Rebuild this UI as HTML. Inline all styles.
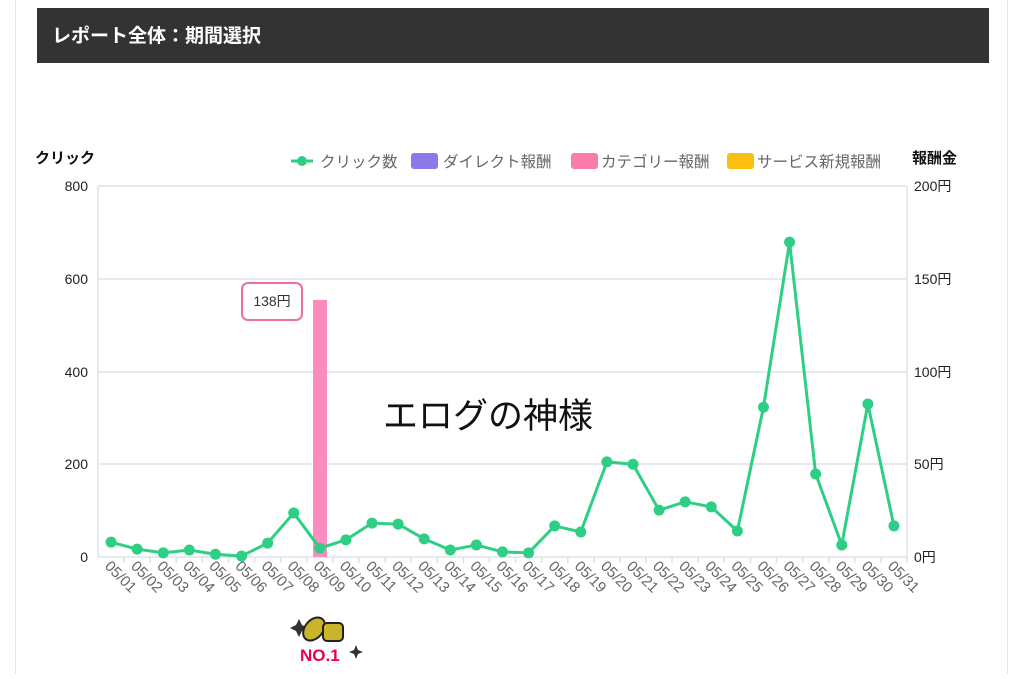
<!DOCTYPE html>
<html><head><meta charset="utf-8"><style>
body{margin:0;background:#fff;width:1024px;height:674px;overflow:hidden;font-family:"Liberation Sans","Noto Sans CJK JP",sans-serif}
</style></head><body>
<svg width="1024" height="674" xmlns="http://www.w3.org/2000/svg" font-family="Liberation Sans, Noto Sans CJK JP, sans-serif">
<line x1="15.5" y1="0" x2="15.5" y2="674" stroke="#e6e6e6"/>
<line x1="1007.5" y1="0" x2="1007.5" y2="674" stroke="#e6e6e6"/>
<rect x="37" y="8" width="952" height="55" fill="#333"/>
<text x="52" y="42" font-size="19" font-weight="bold" fill="#fff">レポート全体：期間選択</text>
<text x="35" y="163" font-size="15" font-weight="bold" fill="#111">クリック</text>
<text x="912" y="163" font-size="15" font-weight="bold" fill="#111">報酬金</text>
<line x1="291" y1="161" x2="313" y2="161" stroke="#2ecf85" stroke-width="3"/><circle cx="302" cy="161" r="5" fill="#2ecf85"/>
<text x="320" y="167" font-size="15.5" fill="#666">クリック数</text>
<rect x="411" y="153" width="27" height="16" rx="3" fill="#8a79e8"/>
<text x="443" y="167" font-size="15.5" fill="#666">ダイレクト報酬</text>
<rect x="571" y="153" width="27" height="16" rx="3" fill="#fb7bab"/>
<text x="601" y="167" font-size="15.5" fill="#666">カテゴリー報酬</text>
<rect x="727" y="153" width="27" height="16" rx="3" fill="#fbbf0f"/>
<text x="757" y="167" font-size="15.5" fill="#666">サービス新規報酬</text>
<g stroke="#dde2ea" stroke-width="1.5">
<line x1="98" y1="186" x2="907" y2="186"/><line x1="98" y1="279" x2="907" y2="279"/><line x1="98" y1="372" x2="907" y2="372"/><line x1="98" y1="464" x2="907" y2="464"/><line x1="98" y1="557" x2="907" y2="557"/>
<line x1="98" y1="186" x2="98" y2="557"/><line x1="907" y1="186" x2="907" y2="557"/>
</g>
<g font-size="14" fill="#222" text-anchor="end">
<text x="88" y="191">800</text><text x="88" y="284">600</text><text x="88" y="377">400</text><text x="88" y="469">200</text><text x="88" y="562">0</text>
</g>
<g font-size="14" fill="#222">
<text x="914" y="191">200円</text><text x="914" y="284">150円</text><text x="914" y="377">100円</text><text x="914" y="469">50円</text><text x="914" y="562">0円</text>
</g>
<rect x="313" y="300" width="14" height="257" fill="#fb8cc0"/>
<g id="ticks" stroke="#dde2ea" stroke-width="1.5"></g>
<g id="xl" font-size="15" fill="#666"></g>
<polyline id="ln" fill="none" stroke="#2ecf85" stroke-width="3" stroke-linejoin="round"/>
<g id="pts" fill="#2ecf85"></g>
<rect x="242" y="283" width="60" height="37" rx="6" fill="#fff" stroke="#f06ea4" stroke-width="2"/>
<text x="272" y="306" font-size="14" fill="#333" text-anchor="middle">138円</text>
<text x="383" y="428" font-size="35" fill="#111" textLength="210">エログの神様</text>
<g transform="translate(286,615)">
<path d="M10 10 l3 -6 l3 6 l6 3 l-6 3 l-3 6 l-3 -6 l-6 -3z" fill="#333"/>
<ellipse cx="28" cy="14" rx="9" ry="13" transform="rotate(40 28 14)" fill="#c8b52a" stroke="#222" stroke-width="2"/>
<rect x="37" y="8" width="20" height="18" rx="4" fill="#c8b52a" stroke="#222" stroke-width="2"/>
<text x="14" y="46" font-size="17" font-weight="bold" fill="#e8004a">NO.1</text>
<path d="M68 35 l2 -5 l2 5 l5 2 l-5 2 l-2 5 l-2 -5 l-5 -2z" fill="#333"/>
</g>
<script>
var d=[32,17,9,15,6,2,30,95,19,37,73,71,39,15,26,11,9,67,54,205,200,101,119,108,56,323,679,179,26,330,67];
var pts=[],g=document.getElementById('pts'),t=document.getElementById('ticks'),xl=document.getElementById('xl'),ns='http://www.w3.org/2000/svg';
var w=809/31;
for(var i=0;i<31;i++){var x=98+w*(i+0.5),y=557-d[i]/800*371;pts.push(x+','+y);
var c=document.createElementNS(ns,'circle');c.setAttribute('cx',x);c.setAttribute('cy',y);c.setAttribute('r',5.5);g.appendChild(c);
var l=document.createElementNS(ns,'line');var tx=98+w*(i+1);l.setAttribute('x1',tx);l.setAttribute('x2',tx);l.setAttribute('y1',557);l.setAttribute('y2',563);t.appendChild(l);
var s=document.createElementNS(ns,'text');var lx=98+w*i+6,ly=567;s.setAttribute('x',lx);s.setAttribute('y',ly);s.setAttribute('transform','rotate(45 '+lx+' '+ly+')');s.textContent='05/'+(i<9?'0':'')+(i+1);xl.appendChild(s);}
document.getElementById('ln').setAttribute('points',pts.join(' '));
</script>
</svg>
</body></html>
